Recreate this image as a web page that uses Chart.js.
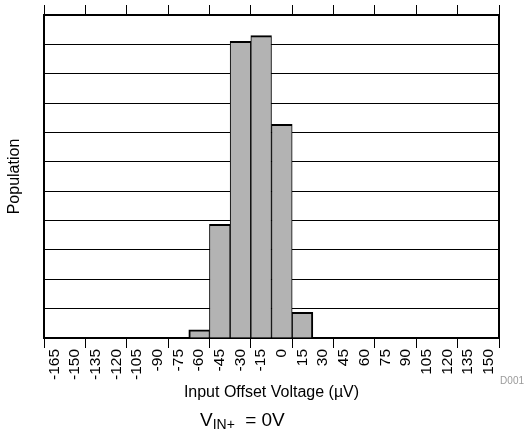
<!DOCTYPE html>
<html lang="en">
<head>
<meta charset="UTF-8">
<title>Input Offset Voltage Distribution</title>
<style>
    body {
        margin: 0;
        background: #fff;
    }

    #wrap {
        position: relative;
        width: 525px;
        height: 441px;
        font-family: "Liberation Sans", Arial, sans-serif;
    }

    #note {
        position: absolute;
        left: 200px;
        top: 410px;
        font-size: 19px;
        line-height: 19px;
        color: #000;
        white-space: nowrap;
    }

    #note sub {
        font-size: 14px;
        vertical-align: baseline;
        position: relative;
        top: 3px;
        margin-right: 5px;
    }

    #code {
        position: absolute;
        right: 1px;
        top: 376px;
        font-size: 10px;
        line-height: 10px;
        color: #9a9a9a;
    }
</style>
</head>
<body>
<div id="wrap">
    <canvas id="chart" width="525" height="441"></canvas>
    <div id="note">V<sub>IN+</sub> = 0V</div>
    <div id="code">D001</div>
</div>

<script src="https://cdn.jsdelivr.net/npm/chart.js"></script>
<script>
    // histogram bins (uV), one label per bin centre
    const binLabels = ['-165', '-150', '-135', '-120', '-105', '-90', '-75', '-60', '-45', '-30', '-15',
        '0', '15', '30', '45', '60', '75', '90', '105', '120', '135', '150'];

    // population per bin (grid units)
    const population = [0, 0, 0, 0, 0, 0, 0, 0.28, 3.87, 10.1, 10.3, 7.28, 0.87,
        0, 0, 0, 0, 0, 0, 0, 0, 0];

    const yMax = 11;

    Chart.defaults.font.family = '"Liberation Sans", Arial, sans-serif';
    Chart.defaults.color = '#000';

    // tick marks only on every other bin edge
    const edgeColor = c => (c.type !== 'tick' || c.index % 2 === 0) ? '#000' : 'rgba(0,0,0,0)';

    // bars share their side lines, so outer sides get the full width
    const barBorder = c => {
        const i = c.dataIndex;
        const prev = i > 0 ? population[i - 1] : 0;
        const next = i < population.length - 1 ? population[i + 1] : 0;
        return { top: 2, left: prev ? 1 : 2, right: next ? 1 : 2, bottom: 0 };
    };

    const ctx = document.getElementById('chart').getContext('2d');

    new Chart(ctx, {
        type: 'bar',
        data: {
            labels: binLabels,
            datasets: [{
                data: population,
                backgroundColor: '#b3b3b3',
                borderColor: '#000',
                borderWidth: barBorder,
                barPercentage: 1,
                categoryPercentage: 1,
                xAxisID: 'x',
                yAxisID: 'y'
            }]
        },
        options: {
            responsive: false,
            animation: false,
            devicePixelRatio: 1,
            layout: { padding: 0 },
            plugins: {
                legend: { display: false },
                tooltip: { enabled: false }
            },
            scales: {
                x: {
                    type: 'category',
                    position: 'bottom',
                    offset: true,
                    grid: {
                        offset: true,
                        drawOnChartArea: false,
                        tickLength: 10,
                        color: edgeColor,
                        lineWidth: 1
                    },
                    border: { color: '#000', width: 2 },
                    ticks: {
                        minRotation: 90,
                        maxRotation: 90,
                        autoSkip: false,
                        color: '#000',
                        font: { size: 15.5 },
                        padding: 1
                    },
                    title: {
                        display: true,
                        text: 'Input Offset Voltage (µV)',
                        color: '#000',
                        font: { size: 16 },
                        padding: { top: 0, bottom: 39 }
                    },
                    afterFit: s => { s.height = 103; }
                },
                xTop: {
                    type: 'category',
                    position: 'top',
                    offset: true,
                    grid: {
                        offset: true,
                        drawOnChartArea: false,
                        tickLength: 10,
                        color: edgeColor,
                        lineWidth: 1
                    },
                    border: { color: '#000', width: 2 },
                    ticks: { display: false },
                    afterFit: s => { s.height = 15; }
                },
                y: {
                    type: 'linear',
                    position: 'left',
                    min: 0,
                    max: yMax,
                    ticks: { display: false, stepSize: 1 },
                    grid: { color: '#000', lineWidth: 1, drawTicks: false },
                    border: { color: '#000', width: 2 },
                    title: {
                        display: true,
                        text: 'Population',
                        color: '#000',
                        font: { size: 16 },
                        padding: { top: 5, bottom: 0 }
                    },
                    afterFit: s => { s.width = 44; }
                },
                yRight: {
                    type: 'linear',
                    position: 'right',
                    min: 0,
                    max: yMax,
                    ticks: { display: false },
                    grid: { drawOnChartArea: false, drawTicks: false },
                    border: { color: '#000', width: 2 },
                    afterFit: s => { s.width = 26; }
                }
            }
        }
    });
</script>
</body>
</html>
